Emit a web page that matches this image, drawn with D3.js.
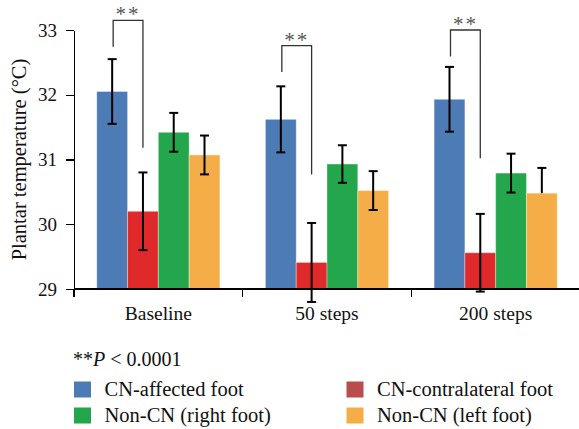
<!DOCTYPE html>
<html>
<head>
<meta charset="utf-8">
<script src="https://cdn.jsdelivr.net/npm/d3@7/dist/d3.min.js"></script>
<style>
	body { margin: 0; background: #fff; }
	svg { display: block; font-family: "Liberation Serif", "DejaVu Serif", serif; }
	.axis path, .axis line { stroke: #000; stroke-width: 1.3; shape-rendering: crispEdges; }
	.axis text { fill: #111; font-family: "Liberation Serif", serif; }
	.y-axis text { font-size: 19px; }
	.x-axis text { font-size: 19.5px; }
	.err { stroke: #000; stroke-width: 2; }
	.sig { stroke: #333; stroke-width: 1.3; fill: none; }
	.leg-text { font-size: 20.5px; fill: #111; }
</style>
</head>
<body>
<svg class="chart" width="579" height="429"></svg>
<script>
// values
var categories = ['Baseline', '50 steps', '200 steps'];
var seriesNames = ['CN-affected foot', 'CN-contralateral foot', 'Non-CN (right foot)', 'Non-CN (left foot)'];

var affected       = [32.05, 31.62, 31.93];
var contralateral  = [30.20, 29.41, 29.56];
var nonCnRight     = [31.42, 30.93, 30.79];
var nonCnLeft      = [31.07, 30.52, 30.48];

var affectedErr      = [0.50, 0.51, 0.50];
var contralateralErr = [0.60, 0.61, 0.60];
var nonCnRightErr    = [0.30, 0.29, 0.30];
var nonCnLeftErr     = [0.30, 0.30, 0.39];
// lower whisker of the last orange bar is hidden in the figure
var nonCnLeftErrLow  = [0.30, 0.30, 0.00];

var yTicks = [29, 30, 31, 32, 33];

// ** brackets: top level, end of left leg, end of right leg
var sigTop      = [33.15, 32.76, 33.00];
var sigLeftEnd  = [32.74, 32.35, 32.59];
var sigRightEnd = [31.18, 30.77, 31.02];

(function(){
	var barColors = ['#4c7bb5', '#e0292b', '#24a64d', '#f4ad47'];
	var swatchColors = ['#4c7bb5', '#b94c4c', '#24a64d', '#f4ad47'];

	var values = [affected, contralateral, nonCnRight, nonCnLeft];
	var errUp = [affectedErr, contralateralErr, nonCnRightErr, nonCnLeftErr];
	var errDown = [affectedErr, contralateralErr, nonCnRightErr, nonCnLeftErrLow];

	var svg = d3.select('.chart');
	var left = 74, right = 580, top = 30, bottom = 289;

	var x0 = d3.scaleBand().domain(categories).range([left, right]).paddingInner(0.27).paddingOuter(0.135);
	var x1 = d3.scaleBand().domain(d3.range(seriesNames.length)).range([0, x0.bandwidth()]);
	var y = d3.scaleLinear().domain([29, 33]).range([bottom, top]);

	// bars
	var groups = svg.append('g').attr('class', 'bars')
		.selectAll('g').data(categories).enter().append('g')
		.attr('transform', function(c){ return 'translate(' + x0(c) + ',0)'; });

	groups.each(function(c, ci){
		var g = d3.select(this);
		seriesNames.forEach(function(s, si){
			var v = values[si][ci];
			g.append('rect')
				.attr('x', x1(si))
				.attr('y', y(v))
				.attr('width', x1.bandwidth())
				.attr('height', y(29) - y(v))
				.attr('fill', barColors[si])
				.attr('stroke', 'rgba(255,255,255,0.35)')
				.attr('stroke-width', 1);
		});
	});

	// error bars
	groups.each(function(c, ci){
		var g = d3.select(this);
		seriesNames.forEach(function(s, si){
			var v = values[si][ci];
			var cx = x1(si) + x1.bandwidth() / 2;
			var hi = y(v + errUp[si][ci]), lo = y(v - errDown[si][ci]);
			g.append('line').attr('class', 'err').attr('x1', cx).attr('x2', cx).attr('y1', hi).attr('y2', lo);
			g.append('line').attr('class', 'err').attr('x1', cx - 4.5).attr('x2', cx + 4.5).attr('y1', hi).attr('y2', hi);
			if(errDown[si][ci] > 0)
				g.append('line').attr('class', 'err').attr('x1', cx - 4.5).attr('x2', cx + 4.5).attr('y1', lo).attr('y2', lo);
		});
	});

	// significance brackets
	groups.each(function(c, ci){
		var g = d3.select(this);
		var xa = x1(0) + x1.bandwidth() / 2 + 1;
		var xb = x1(1) + x1.bandwidth() / 2;
		var yt = y(sigTop[ci]);
		g.append('path').attr('class', 'sig')
			.attr('d', 'M' + xa + ',' + y(sigLeftEnd[ci]) + 'V' + yt + 'H' + xb + 'V' + y(sigRightEnd[ci]));
		g.append('text')
			.attr('x', (xa + xb) / 2)
			.attr('y', yt + 1)
			.attr('text-anchor', 'middle')
			.attr('font-size', 21)
			.attr('letter-spacing', 2)
			.attr('fill', '#555')
			.text('**');
	});

	// axes
	var yAxis = d3.axisLeft(y).tickValues(yTicks).tickFormat(d3.format('d'))
		.tickSize(8).tickPadding(9).tickSizeOuter(0);
	svg.append('g').attr('class', 'axis y-axis').attr('transform', 'translate(' + left + ',0)').call(yAxis);

	var xAxis = d3.axisBottom(x0).tickSize(0).tickPadding(17);
	var gx = svg.append('g').attr('class', 'axis x-axis').attr('transform', 'translate(0,' + bottom + ')').call(xAxis);
	gx.select('.domain').attr('d', 'M' + left + ',0H' + right);
	var step = x0.step();
	gx.selectAll('.sep').data(d3.range(categories.length)).enter().append('line')
		.attr('class', 'sep')
		.attr('x1', function(i){ return left + i * step; })
		.attr('x2', function(i){ return left + i * step; })
		.attr('y1', 0).attr('y2', 8);

	svg.append('text')
		.attr('transform', 'translate(26,' + ((top + bottom) / 2) + ') rotate(-90)')
		.attr('text-anchor', 'middle')
		.attr('font-size', 20.5)
		.attr('fill', '#111')
		.text('Plantar temperature (°C)');

	// legend
	var note = svg.append('text').attr('x', 73).attr('y', 366).attr('font-size', 20).attr('fill', '#111');
	note.append('tspan').text('**');
	note.append('tspan').attr('font-style', 'italic').text('P');
	note.append('tspan').text(' < 0.0001');

	var legX = [74, 346.5], legY = [381.5, 407.5];
	seriesNames.forEach(function(s, i){
		var lx = legX[i % 2], ly = legY[Math.floor(i / 2)];
		svg.append('rect').attr('x', lx).attr('y', ly).attr('width', 17).attr('height', 16).attr('fill', swatchColors[i]);
		svg.append('text').attr('class', 'leg-text').attr('x', lx + 30.5).attr('y', ly + 14.5).text(s);
	});
})();
</script>
</body>
</html>
